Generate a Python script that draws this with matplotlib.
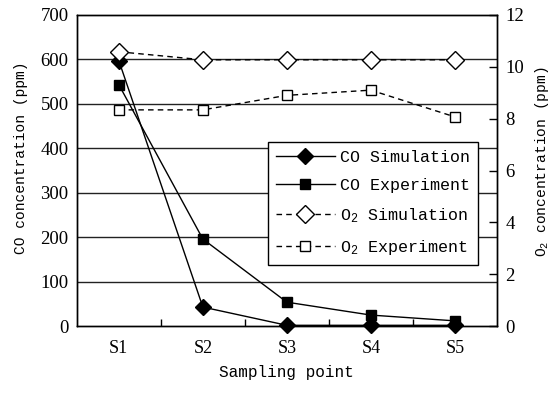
import matplotlib
matplotlib.use('Agg')
import matplotlib.pyplot as plt

plt.rcParams['font.family'] = 'Liberation Serif'
plt.rcParams['mathtext.fontset'] = 'custom'
plt.rcParams['mathtext.rm'] = 'Liberation Mono'
plt.rcParams['mathtext.it'] = 'Liberation Mono'

points = ['S1', 'S2', 'S3', 'S4', 'S5']
co_sim = [597, 43, 2, 2, 2]
co_exp = [543, 196, 54, 25, 12]
o2_sim = [10.58, 10.27, 10.27, 10.27, 10.27]
o2_exp = [8.34, 8.34, 8.9, 9.1, 8.07]

mono = 'Liberation Mono'
x = range(len(points))

fig = plt.figure(figsize=(5.57, 3.93), dpi=100)
ax = fig.add_axes([0.138, 0.170, 0.754, 0.792])
ax2 = ax.twinx()

for y in range(100, 700, 100):
    ax.axhline(y, color='#222222', linewidth=1.0, zorder=0)

h1, = ax.plot(x, co_sim, color='black', linewidth=1.0, marker='D',
              markersize=8, markerfacecolor='black', label='CO Simulation')
h2, = ax.plot(x, co_exp, color='black', linewidth=1.0, marker='s',
              markersize=7, markerfacecolor='black', label='CO Experiment')
h3, = ax2.plot(x, o2_sim, color='black', linewidth=1.0, linestyle=(0, (4, 3)),
               marker='D', markersize=9, markerfacecolor='white',
               markeredgewidth=1.0, label='O$_2$ Simulation')
h4, = ax2.plot(x, o2_exp, color='black', linewidth=1.0, linestyle=(0, (4, 3)),
               marker='s', markersize=7, markerfacecolor='white',
               markeredgewidth=1.0, label='O$_2$ Experiment')
for h in (h1, h2, h3, h4):
    h.set_clip_on(False)

ax.set_xlim(-0.5, len(points) - 0.5)
ax.set_ylim(0, 700)
ax2.set_ylim(0, 12)

ax.set_xticks(list(x))
ax.set_xticklabels(points, fontsize=13)
ax.set_xticks([i + 0.5 for i in range(len(points) - 1)], minor=True)
ax.tick_params(axis='x', which='major', length=0, pad=10)
ax.tick_params(axis='x', which='minor', direction='in', length=5, width=1)
ax.set_yticks(range(0, 701, 100))
ax.tick_params(axis='y', length=0, labelsize=13.5, pad=6)
ax2.set_yticks(range(0, 13, 2))
ax2.tick_params(axis='y', direction='in', length=6, width=1,
                labelsize=13.5, pad=6)

for a in (ax, ax2):
    for s in a.spines.values():
        s.set_linewidth(1.0)

ax.set_xlabel('Sampling point', fontsize=11.5, family=mono, labelpad=6)
ax.set_ylabel('CO concentration (ppm)', fontsize=10.5, family=mono)
ax.yaxis.set_label_coords(-0.117, 0.54)
ax2.set_ylabel('O$_2$ concentration (ppm)', fontsize=10.5, family=mono,
               rotation=90)
ax2.yaxis.set_label_coords(1.086, 0.527)

leg = ax2.legend([h1, h2, h3, h4], [h.get_label() for h in (h1, h2, h3, h4)],
                 loc='upper left', bbox_to_anchor=(0.455, 0.592),
                 prop={'family': mono, 'size': 12}, frameon=True,
                 fancybox=False, edgecolor='black', framealpha=1,
                 handlelength=3.5, handletextpad=0.3, borderpad=0.5,
                 labelspacing=0.78, borderaxespad=0)
leg.get_frame().set_linewidth(1.0)
leg.set_zorder(10)

fig.savefig('out.png', dpi=100)
